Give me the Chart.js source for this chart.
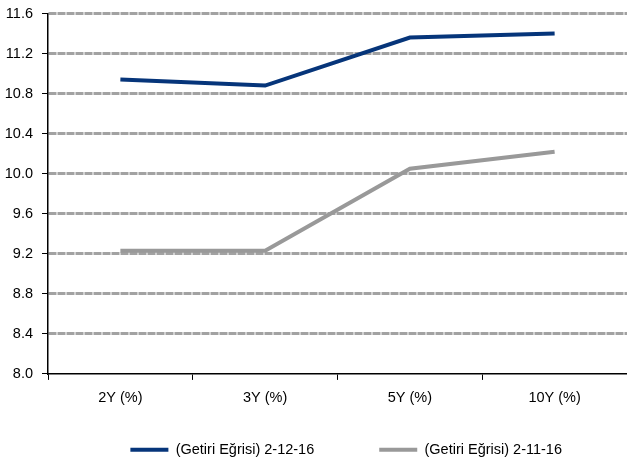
<!DOCTYPE html>
<html>
<head>
<meta charset="utf-8">
<script src="https://cdn.jsdelivr.net/npm/chart.js@4/dist/chart.umd.min.js"></script>
<style>
  html, body { margin: 0; padding: 0; background: #fff; }
  #wrap { width: 627px; height: 465px; position: relative; }
</style>
</head>
<body>
<div id="wrap"><canvas id="c"></canvas></div>
<script>
// Yield curve: maturities and yields (%) on two dates
const maturities = ['2Y (%)', '3Y (%)', '5Y (%)', '10Y (%)'];
const curveDec = [10.94, 10.88, 11.36, 11.40];
const curveNov = [9.23, 9.23, 10.05, 10.22];
const seriesNames = ['(Getiri Eğrisi) 2-12-16', '(Getiri Eğrisi) 2-11-16'];
const yTicks = [8.0, 8.4, 8.8, 9.2, 9.6, 10.0, 10.4, 10.8, 11.2, 11.6];

const FONT = '"Liberation Sans", Arial, sans-serif';
const BLUE = '#06357a';
const GREY = '#999999';

new Chart(document.getElementById('c'), {
  type: 'line',
  data: {
    labels: maturities,
    datasets: [
      { label: seriesNames[0], data: curveDec, borderColor: BLUE, backgroundColor: BLUE,
        borderWidth: 4, pointRadius: 0, tension: 0 },
      { label: seriesNames[1], data: curveNov, borderColor: GREY, backgroundColor: GREY,
        borderWidth: 4, pointRadius: 0, tension: 0 }
    ]
  },
  options: {
    responsive: true,
    maintainAspectRatio: false,
    animation: false,
    layout: { padding: { top: 0, right: 0, left: 0, bottom: -2 } },
    plugins: {
      tooltip: { enabled: false },
      legend: {
        position: 'bottom',
        align: 'end',
        // empty title with negative padding tightens the space above the legend row
        title: { display: true, text: '', font: { size: 1 }, padding: { top: -39, bottom: 0 } },
        labels: {
          font: { family: FONT, size: 14.5 },
          color: '#000',
          boxWidth: 38,
          boxHeight: 4,
          padding: 65,
          generateLabels: (chart) => chart.data.datasets.map((ds, i) => ({
            text: ds.label, fillStyle: ds.borderColor, strokeStyle: ds.borderColor,
            lineWidth: 0, hidden: false, datasetIndex: i, fontColor: '#000'
          }))
        }
      }
    },
    scales: {
      x: {
        offset: true,
        grid: { display: true, drawOnChartArea: false, drawTicks: true, tickLength: 6,
                tickColor: '#000', offset: true },
        border: { display: true, color: '#000', width: 1.5 },
        ticks: { font: { family: FONT, size: 14.5 }, color: '#000', padding: 9 }
      },
      y: {
        min: 8.0,
        max: 11.6,
        afterFit: (s) => { s.width = 48; s.paddingTop = 13.5; s.paddingBottom = 9; },
        afterBuildTicks: (s) => { s.ticks = yTicks.map(v => ({ value: v })); },
        grid: {
          color: (ctx) => ctx.tick && ctx.tick.value === 8.0 ? 'rgba(0,0,0,0)' : '#a2a2a2',
          lineWidth: 3,
          tickColor: '#000',
          tickWidth: 1,
          tickLength: 6,
          tickBorderDash: [],
          drawTicks: true
        },
        border: { display: true, color: '#000', width: 1.5, dash: [8, 1] },
        ticks: {
          font: { family: FONT, size: 14.5 }, color: '#000', padding: 9,
          callback: (v) => Number(v).toFixed(1)
        }
      }
    }
  }
});
</script>
</body>
</html>
